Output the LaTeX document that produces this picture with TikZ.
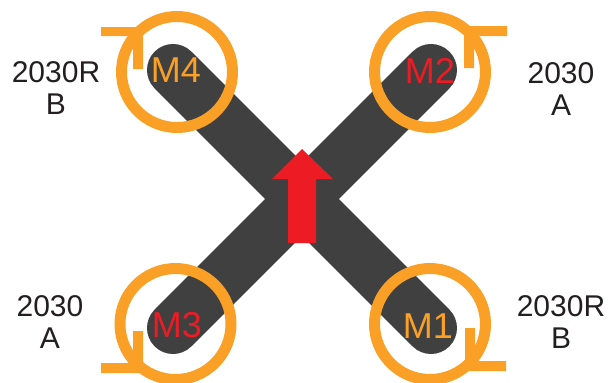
\documentclass[tikz,border=0pt]{standalone}
\usepackage{fontspec}
\setmainfont{Liberation Sans}
\definecolor{armgrey}{HTML}{404040}
\definecolor{ringorange}{HTML}{FBA026}
\definecolor{arrowred}{HTML}{ED1C24}
\definecolor{labelink}{HTML}{231F20}
\tikzset{
  arm/.style={draw=armgrey,line width=52pt,line cap=round},
  ring/.style={draw=ringorange,line width=11pt},
  turn/.style={fill=ringorange,draw=none},
  motor/.style={font=\fontsize{36}{36}\selectfont,inner sep=0pt},
  esc/.style={font=\fontsize{30}{32}\selectfont,align=center,text=labelink,inner sep=0pt}
}
\begin{document}
\begin{tikzpicture}[x=1pt,y=-1pt]
\useasboundingbox (0,0) rectangle (608,383);
\clip (0,0) rectangle (608,383);
\fill[white] (0,0) rectangle (608,383);
\coordinate (c4) at (173,70);
\coordinate (c2) at (431,70);
\coordinate (c3) at (173,328);
\coordinate (c1) at (431,328);
\draw[arm] (c4) -- (c1);
\draw[arm] (c3) -- (c2);
% rotation rings
\draw[ring] (177,72) circle[radius=55.5];
\draw[ring] (430,72) circle[radius=55.5];
\draw[ring] (175.5,324) circle[radius=55.5];
\draw[ring] (430,324) circle[radius=55.5];
% rotation marks
\fill[turn] (101,27) -- (143,27) -- (143,69) -- (133,69) -- (133,36) -- (101,36) -- cycle;
\fill[turn] (507,26) -- (464,26) -- (464,68) -- (474,68) -- (474,36) -- (507,36) -- cycle;
\fill[turn] (101,373) -- (143,373) -- (143,331) -- (133,331) -- (133,363) -- (101,363) -- cycle;
\fill[turn] (506,371) -- (465,371) -- (465,328) -- (475,328) -- (475,361) -- (506,361) -- cycle;
% heading arrow
\fill[arrowred] (302,149) -- (333,179) -- (316,179) -- (316,243) -- (288,243) -- (288,179) -- (272,179) -- cycle;
% motor labels
\node[motor,text=ringorange] (m4) at (176,70) {M4};
\node[motor,text=arrowred] (m2) at (430,71) {M2};
\node[motor,text=arrowred] (m3) at (177,325) {M3};
\node[motor,text=ringorange] (m1) at (428,326) {M1};
% ESC labels
\node[esc] (l4) at (56,88) {2030R\\B};
\node[esc] (l2) at (561,89) {2030\\A};
\node[esc] (l3) at (50,322) {2030\\A};
\node[esc] (l1) at (561,322) {2030R\\B};
\end{tikzpicture}
\end{document}
